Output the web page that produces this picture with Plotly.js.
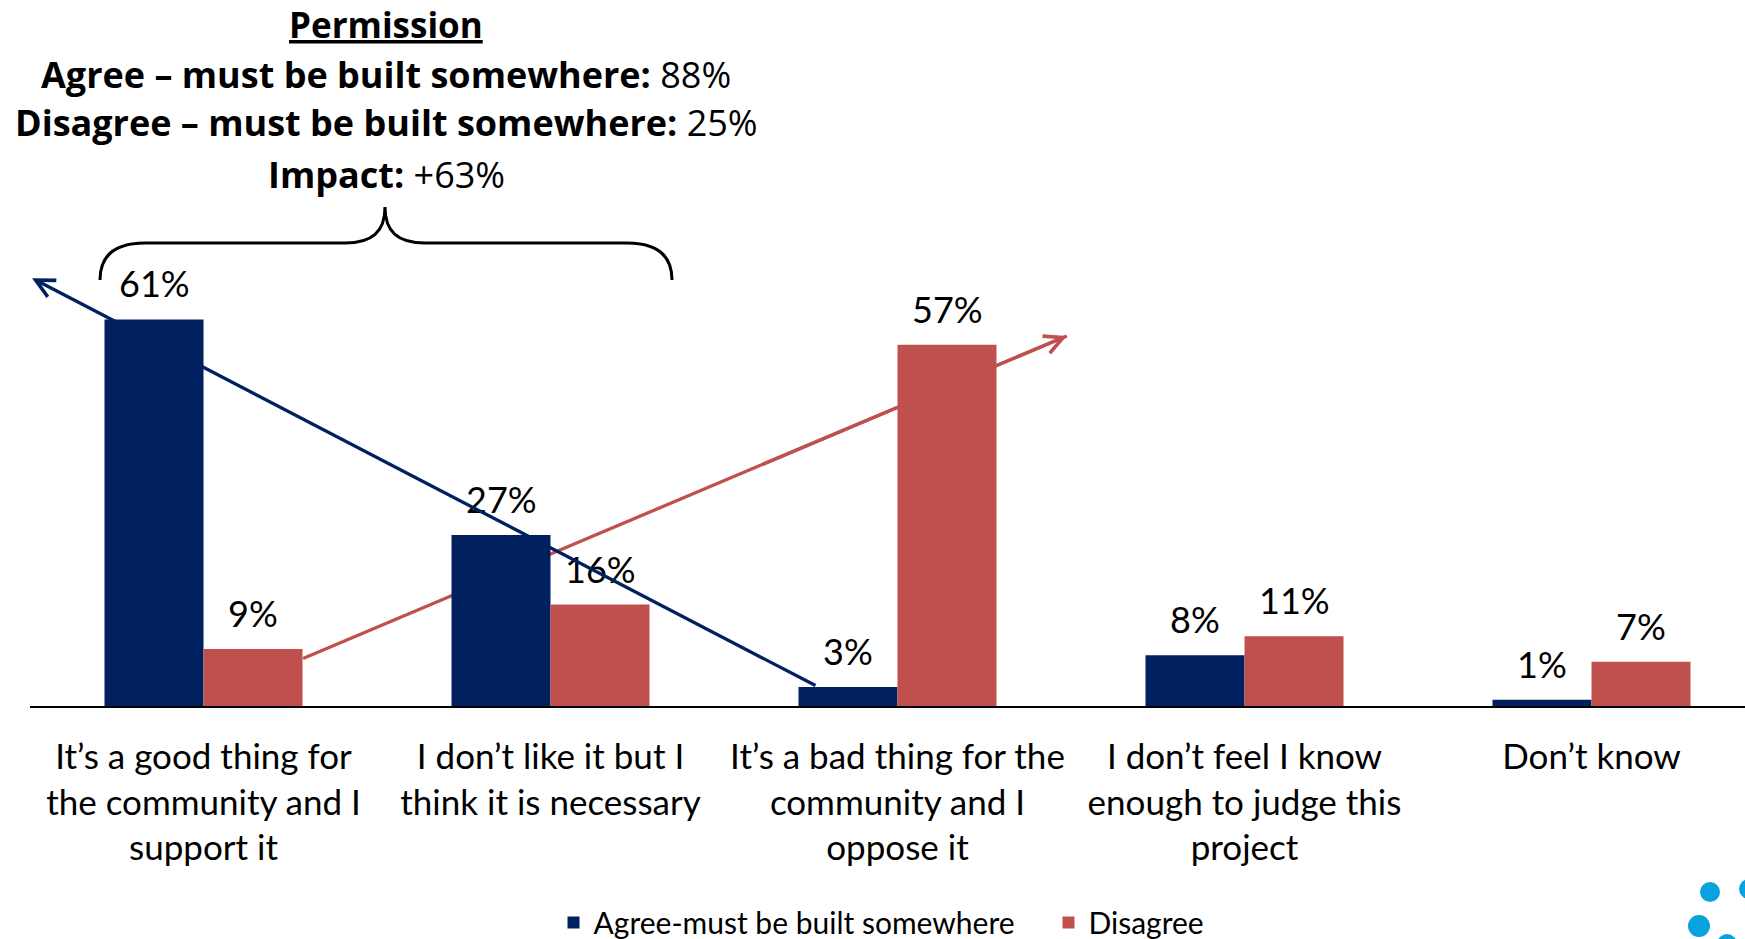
<!DOCTYPE html>
<html><head><meta charset="utf-8">
<script src="https://cdn.plot.ly/plotly-3.0.1.min.js"></script>
<style>html,body{margin:0;padding:0;background:#fff;overflow:hidden}#chart{width:1745px;height:939px;}</style>
</head><body><div id="chart"></div>
<script>
// ---- data ----
const categories = [
  "It’s a good thing for<br>the community and I<br>support it",
  "I don’t like it but I<br>think it is necessary",
  "It’s a bad thing for the<br>community and I<br>oppose it",
  "I don’t feel I know<br>enough to judge this<br>project",
  "Don’t know"
];
const agreeValues = [61, 27, 3, 8, 1];
const disagreeValues = [9, 16, 57, 11, 7];
const seriesNames = ["Agree-must be built somewhere", "Disagree"];
const summaryTitle = "Permission";
const summaryLabels = ["Agree – must be built somewhere:", "Disagree – must be built somewhere:", "Impact:"];
const summaryValues = ["88%", "25%", "+63%"];

// ---- style ----
const NAVY = "#002060", RED = "#C0504D", FONT = "Lato, 'Open Sans', sans-serif";
const TFONT = "'Open Sans', Lato, sans-serif";
const W = 1745, H = 939, ML = 30, MR = 0, MT = 71, MB = 233;
const PW = W - ML - MR, PH = H - MT - MB;
const px = x => (x - ML) / PW;          // pixel -> paper x
const py = y => (H - MB - y) / PH;      // pixel -> paper y
const P = (x, y) => px(x).toFixed(5) + "," + py(y).toFixed(5);

const BARGAP = 0.4294;
const half = (1 - BARGAP) / 4;           // offset of each bar centre from category centre

const traces = [
  {type: "bar", name: seriesNames[0], x: categories, y: agreeValues, marker: {color: NAVY}, hoverinfo: "none"},
  {type: "bar", name: seriesNames[1], x: categories, y: disagreeValues, marker: {color: RED}, hoverinfo: "none"}
];

const annotations = [];
// value labels
[agreeValues, disagreeValues].forEach((vals, s) => {
  vals.forEach((v, i) => {
    annotations.push({
      xref: "x", yref: "y", x: i + (s === 0 ? -half : half), y: v,
      text: v + "%", showarrow: false, xanchor: "center", yanchor: "middle", yshift: 36,
      font: {family: FONT, size: 36, color: "#000"}
    });
  });
});
// summary text
annotations.push({xref: "paper", yref: "paper", x: px(386), y: py(0), xanchor: "center", yanchor: "top",
  borderpad: 0, text: "<b><u>" + summaryTitle + "</u></b>", showarrow: false,
  font: {family: TFONT, size: 35, color: "#000"}});
const lineY = [74, 122.5, 174.5];
summaryLabels.forEach((lab, k) => {
  annotations.push({xref: "paper", yref: "paper", x: px(386), y: py(lineY[k]), xanchor: "center", yanchor: "middle",
    text: "<b>" + lab + "</b> " + summaryValues[k], showarrow: false,
    font: {family: TFONT, size: 36, color: "#000"}});
});
// red arrow head segment (line body drawn as a shape below the bars)
const redTail = [0.287, 7.5], redTip = [2.488, 58.4];
const tMid = 0.6;
annotations.push({xref: "x", yref: "y", axref: "x", ayref: "y",
  x: redTip[0], y: redTip[1],
  ax: redTail[0] + tMid * (redTip[0] - redTail[0]), ay: redTail[1] + tMid * (redTip[1] - redTail[1]),
  text: "", showarrow: true, arrowhead: 5, arrowsize: 1.1, arrowwidth: 3.3, arrowcolor: RED});
// navy arrow (drawn on top)
annotations.push({xref: "x", yref: "y", axref: "x", ayref: "y",
  x: -0.494, y: 67.5, ax: 1.768, ay: 3.1,
  text: "", showarrow: true, arrowhead: 5, arrowsize: 1.1, arrowwidth: 3.3, arrowcolor: NAVY});

const shapes = [
  {type: "line", layer: "below", xref: "x", yref: "y",
   x0: redTail[0], y0: redTail[1], x1: redTip[0], y1: redTip[1], line: {color: RED, width: 3.3}},
  // brace
  {type: "path", xref: "paper", yref: "paper", layer: "above",
   path: "M" + P(100, 280) + " C" + P(100, 258) + " " + P(112, 243) + " " + P(145, 243) +
         " L" + P(345, 243) + " C" + P(372, 243) + " " + P(385, 232) + " " + P(385, 207) +
         " C" + P(385, 232) + " " + P(398, 243) + " " + P(425, 243) +
         " L" + P(627, 243) + " C" + P(660, 243) + " " + P(672, 258) + " " + P(672, 280),
   line: {color: "#000", width: 3}},
];
// decorative logo dots bottom-right
[[1710, 892, 10], [1749, 889, 10], [1699, 926, 11], [1727, 944, 10]].forEach(d => {
  shapes.push({type: "circle", xref: "paper", yref: "paper",
    x0: px(d[0] - d[2]), x1: px(d[0] + d[2]), y0: py(d[1] + d[2]), y1: py(d[1] - d[2]),
    fillcolor: "#0AA2DE", line: {width: 0}});
});

const layout = {
  width: W, height: H,
  margin: {l: ML, r: MR, t: MT, b: MB, pad: 0, autoexpand: false},
  paper_bgcolor: "#fff", plot_bgcolor: "#fff",
  barmode: "group", bargap: BARGAP, bargroupgap: 0,
  font: {family: FONT, color: "#000"},
  xaxis: {type: "category", range: [-0.5, -0.5 + PW / 347], showline: true, linecolor: "#000", linewidth: 2,
    ticks: "", showgrid: false, zeroline: false, fixedrange: true, ticklabelstandoff: 19, automargin: false,
    tickfont: {family: FONT, size: 35, color: "#000"}},
  yaxis: {range: [0, 100.2], visible: false, fixedrange: true, showgrid: false, zeroline: false, automargin: false},
  showlegend: true,
  legend: {orientation: "h", x: px(553.5), xanchor: "left", y: py(922.5), yanchor: "middle",
    entrywidth: 450, entrywidthmode: "pixels", bgcolor: "rgba(0,0,0,0)",
    font: {family: FONT, size: 30, color: "#000"}, traceorder: "normal"},
  annotations: annotations,
  shapes: shapes
};

Plotly.newPlot("chart", traces, layout, {displayModeBar: false, staticPlot: true});
</script>
</body></html>
